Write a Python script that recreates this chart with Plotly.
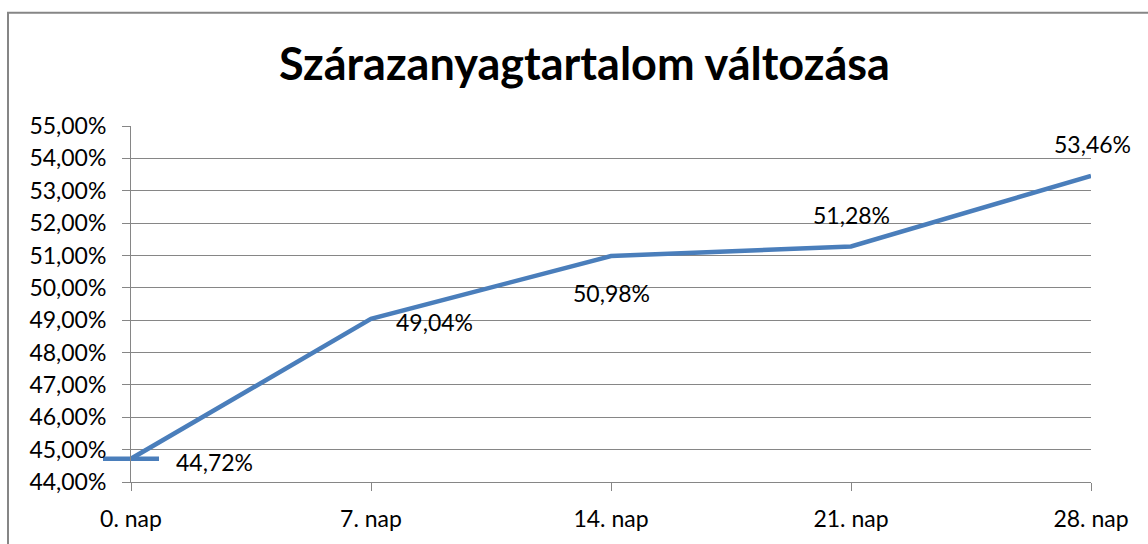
import plotly.graph_objects as go

categories = ["0. nap", "7. nap", "14. nap", "21. nap", "28. nap"]
values = [0.4472, 0.4904, 0.5098, 0.5128, 0.5346]
label_texts = ["44,72%", "49,04%", "50,98%", "51,28%", "53,46%"]
label_shift_x = [83, 63, 0, 0, 1]
label_shift_y = [-3, -3, -37, 31, 32]

LINE = "#4A7EBB"
GRID = "#868686"
FONT = "Lato"

fig = go.Figure()
fig.add_trace(go.Scatter(
    x=categories, y=values, mode="lines", cliponaxis=False,
    line=dict(color=LINE, width=4.5), showlegend=False, hoverinfo="skip"))
fig.add_trace(go.Scatter(
    x=categories[:1], y=values[:1], mode="markers", cliponaxis=False,
    marker=dict(symbol="line-ew", size=40, line=dict(color=LINE, width=4.5)),
    showlegend=False, hoverinfo="skip"))

for c, v, t, dx, dy in zip(categories, values, label_texts, label_shift_x, label_shift_y):
    fig.add_annotation(x=c, y=v, text=t, showarrow=False, xshift=dx, yshift=dy,
                       font=dict(family=FONT, size=23, color="#000000"))

fig.add_shape(type="rect", xref="paper", yref="paper",
              x0=(8 - 131) / 960, x1=1.3, y0=-0.5, y1=(484 - 12) / 358,
              line=dict(color=GRID, width=2), fillcolor="rgba(0,0,0,0)", layer="below")

fig.update_layout(
    width=1148, height=544,
    margin=dict(l=131, r=57, t=126, b=60),
    paper_bgcolor="white", plot_bgcolor="white",
    separators=", ",
    font=dict(family=FONT, size=23, color="#000000"),
    title=dict(text="<b>Szárazanyagtartalom változása</b>", x=584.5 / 1148, xanchor="center",
               y=1 - 64 / 544, yanchor="middle", yref="container",
               font=dict(family=FONT, size=45, color="#000000")),
    xaxis=dict(type="category", range=[0, 4], showgrid=False,
               showline=True, linecolor=GRID, linewidth=1,
               ticks="outside", ticklen=8, tickcolor=GRID, tickwidth=1,
               ticklabelstandoff=8, zeroline=False),
    yaxis=dict(range=[0.44, 0.55], dtick=0.01, tick0=0.44, tickformat=".2%",
               showgrid=True, gridcolor=GRID, gridwidth=1,
               showline=True, linecolor=GRID, linewidth=1,
               ticks="outside", ticklen=8, tickcolor=GRID, tickwidth=1,
               ticklabelstandoff=11, zeroline=False),
)

fig.write_html("out.html", config={"displayModeBar": False},
               post_script="document.body.style.margin='0';document.body.style.overflow='hidden';")
